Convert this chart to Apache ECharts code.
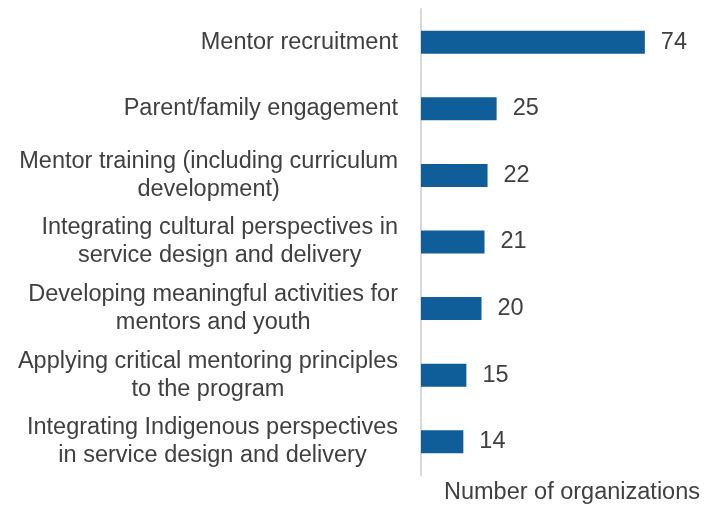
<!DOCTYPE html>
<html>
<head>
<meta charset="utf-8">
<style>
  html, body { margin: 0; padding: 0; background: #fff; }
  #chart { width: 707px; height: 507px; }
</style>
<script src="https://cdn.jsdelivr.net/npm/echarts@6/dist/echarts.min.js"></script>
</head>
<body>
<div id="chart"></div>
<script>
// categories, top to bottom
var categories = [
  'Mentor recruitment',
  'Parent/family engagement',
  'Mentor training (including curriculum\ndevelopment)',
  'Integrating cultural perspectives in\nservice design and delivery',
  'Developing meaningful activities for\nmentors and youth',
  'Applying critical mentoring principles\nto the program',
  'Integrating Indigenous perspectives\nin service design and delivery'
];
var counts = [74, 25, 22, 21, 20, 15, 14];
var axisTitle = 'Number of organizations';

var chart = echarts.init(document.getElementById('chart'));

chart.setOption({
  animation: false,
  textStyle: { fontFamily: 'Liberation Sans, Arial, sans-serif' },
  grid: { left: 421, right: 44, top: 9, bottom: 32, containLabel: false, outerBoundsMode: 'none' },
  xAxis: {
    type: 'value',
    min: 0,
    max: 80,
    axisLine: { show: false },
    axisTick: { show: false },
    axisLabel: { show: false },
    splitLine: { show: false },
    name: axisTitle,
    nameLocation: 'middle',
    nameGap: 6,
    nameTextStyle: {
      color: '#404040',
      fontSize: 23.5,
      verticalAlign: 'top',
      padding: [0, 0, 0, 60]
    }
  },
  yAxis: {
    type: 'category',
    inverse: true,
    data: categories,
    axisLine: { show: true, lineStyle: { color: '#D9D9D9', width: 2 } },
    axisTick: { show: false },
    axisLabel: {
      margin: 23,
      color: '#404040',
      fontSize: 23.5,
      lineHeight: 28,
      align: 'right',
      formatter: function (v) {
        // keep each line centred inside the label block
        return v.split('\n').map(function (l) { return '{c|' + l + '}'; }).join('\n');
      },
      rich: {
        c: { align: 'center', color: '#404040', fontSize: 23.5, lineHeight: 28 }
      }
    }
  },
  series: [{
    type: 'bar',
    data: counts,
    barWidth: 23,
    itemStyle: { color: '#0F5E99' },
    label: {
      show: true,
      position: 'right',
      distance: 16,
      color: '#404040',
      fontSize: 23.5
    }
  }]
});
</script>
</body>
</html>
